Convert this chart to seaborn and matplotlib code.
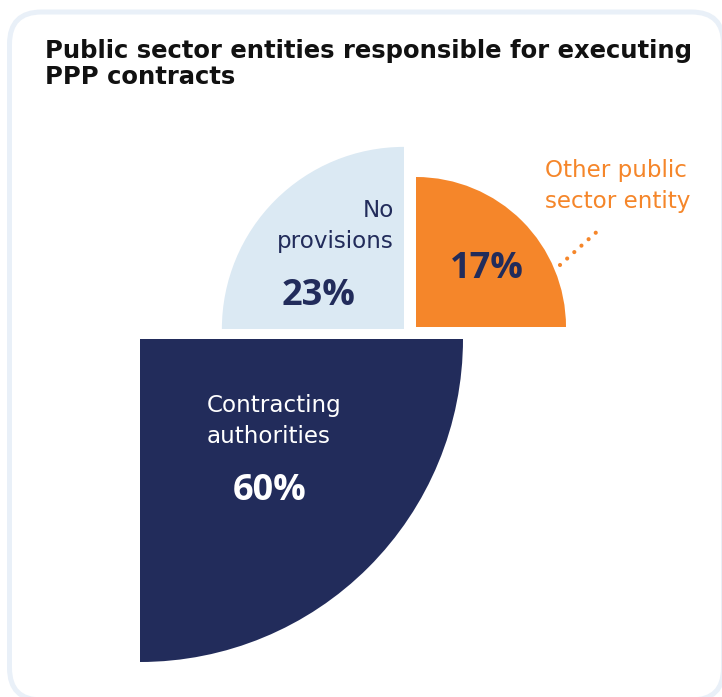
import numpy as np
import matplotlib
matplotlib.use("Agg")
import matplotlib.pyplot as plt
from matplotlib.patches import Wedge, FancyBboxPatch
import seaborn as sns

# Data
categories = ["Other public\nsector entity", "No\nprovisions", "Contracting\nauthorities"]
shares = [17, 23, 60]
colors = ["#f5862a", "#dbe9f3", "#222c5b"]
title = "Public sector entities responsible for executing\nPPP contracts"

sns.set_theme(style="white")
plt.rcParams["font.family"] = ["DejaVu Sans"]

W, H = 722, 697
fig = plt.figure(figsize=(W / 100, H / 100), dpi=100)
fig.patch.set_facecolor("white")
ax = fig.add_axes([0, 0, 1, 1])
ax.set_xlim(0, W)
ax.set_ylim(0, H)
ax.set_aspect("equal")
ax.axis("off")


def Y(y):
    """Top-down pixel row to axis y."""
    return H - y


# Card outline
card = FancyBboxPatch((9.5, Y(700)), 714, 688, boxstyle="round,pad=0,rounding_size=32",
                      facecolor="white", edgecolor="#e9f0f8", linewidth=3.6, zorder=0)
ax.add_patch(card)

# Square-root radius scale (area ~ share)
r_lo, r_hi = 150, 323
s = np.sqrt(shares)
radii = r_lo + (r_hi - r_lo) * (s - s.min()) / (s.max() - s.min())

# Each slice anchored at its corner; quadrant given by angle span
anchors = [(416, Y(327)), (404, Y(329)), (140, Y(339))]
spans = [(0, 90), (90, 180), (270, 360)]
for (cx, cy), (t1, t2), r, c in zip(anchors, spans, radii, colors):
    ax.add_patch(Wedge((cx, cy), r, t1, t2, facecolor=c, edgecolor="none", zorder=2))

# Title
title_lines = title.split("\n")
fig.text(45 / W, Y(58) / H, title_lines[0],
         fontsize=17.5, fontweight="bold", color="#111111", va="baseline", ha="left")
fig.text(45 / W, Y(84) / H, title_lines[1],
         fontsize=17.5, fontweight="bold", color="#111111", va="baseline", ha="left")

navy = colors[2]
lbl = dict(fontsize=16.6, fontweight="normal", va="baseline", zorder=5)
big = dict(fontsize=26, fontweight="bold", va="center", ha="center", zorder=5,
           family=["Open Sans", "DejaVu Sans"])

# No provisions
ax.text(394, Y(217), "No", ha="right", color=navy, **lbl)
ax.text(394, Y(248), "provisions", ha="right", color=navy, **lbl)
ax.text(319, Y(296), f"{shares[1]}%", color=navy, **big)

# Other public sector entity
ax.text(487, Y(269), f"{shares[0]}%", color=navy, **big)
ax.text(545, Y(177), "Other public", ha="left", color=colors[0], **lbl)
ax.text(545, Y(208), "sector entity", ha="left", color=colors[0], **lbl)
ax.plot([560, 601], [Y(265), Y(228)], color=colors[0], lw=3.0,
        linestyle=(0, (0.01, 2.3)), dash_capstyle="round", zorder=5)

# Contracting authorities
ax.text(207, Y(412), "Contracting", ha="left", color="white", **lbl)
ax.text(207, Y(443), "authorities", ha="left", color="white", **lbl)
ax.text(270, Y(491), f"{shares[2]}%", color="white", **big)

fig.savefig("out.png", dpi=100, facecolor="white")
